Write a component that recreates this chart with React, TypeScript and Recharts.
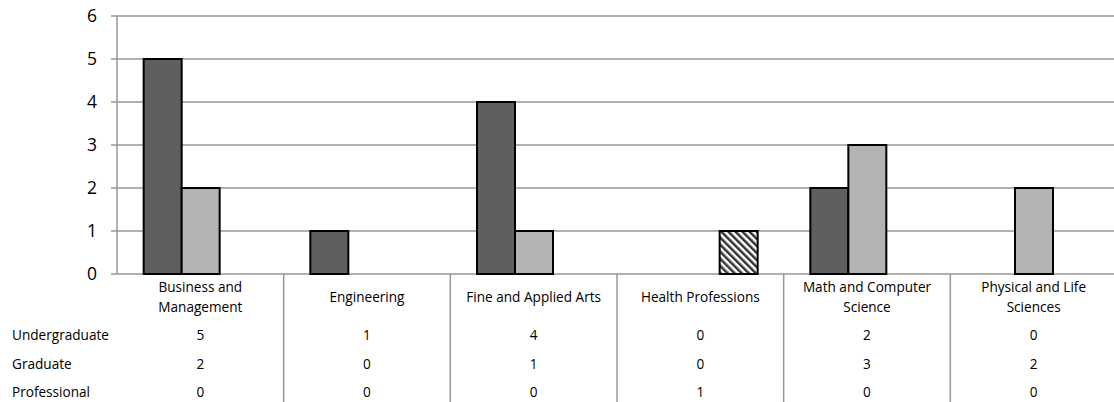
import React from "react";
import { BarChart, Bar, XAxis, YAxis, CartesianGrid } from "recharts";

const categories = [
  "Business and Management",
  "Engineering",
  "Fine and Applied Arts",
  "Health Professions",
  "Math and Computer Science",
  "Physical and Life Sciences",
];
const undergraduate = [5, 1, 4, 0, 2, 0];
const graduate = [2, 0, 1, 0, 3, 2];
const professional = [0, 0, 0, 1, 0, 0];
const seriesNames = ["Undergraduate", "Graduate", "Professional"];
const yTicks = [0, 1, 2, 3, 4, 5, 6];

const seriesValues = [undergraduate, graduate, professional];
const data = categories.map((c, i) => ({
  name: c,
  Undergraduate: undergraduate[i],
  Graduate: graduate[i],
  Professional: professional[i],
}));

const FONT = "'Open Sans', 'Noto Sans', sans-serif";
const GRID = "#979797";
const TABLE_H = 128;

function wrap(label: string, max = 21): string[] {
  const words = label.split(" ");
  const lines: string[] = [];
  let cur = "";
  for (const w of words) {
    const t = cur ? cur + " " + w : w;
    if (t.length > max && cur) {
      lines.push(cur);
      cur = w;
    } else cur = t;
  }
  if (cur) lines.push(cur);
  return lines;
}

function TableTick(props: any) {
  const { x, y, payload } = props;
  const idx: number = payload.index ?? props.index ?? 0;
  const half: number = payload.offset ?? 83;
  const lines = wrap(String(payload.value));
  const labelYs = lines.length === 1 ? [24] : [14, 34];
  const rowYs = [62, 91, 119];
  return (
    <g fontFamily={FONT} fontSize={13.6} fill="#000">
      <line x1={x + half} x2={x + half} y1={y} y2={y + TABLE_H} stroke={GRID} strokeWidth={1.5} />
      {lines.map((l, k) => (
        <text key={k} x={x} y={y + labelYs[k]} textAnchor="middle" dominantBaseline="middle" fill="#000">
          {l}
        </text>
      ))}
      {seriesValues.map((vals, r) => (
        <text key={"v" + r} x={x} y={y + rowYs[r]} textAnchor="middle" dominantBaseline="middle" fill="#000">
          {vals[idx]}
        </text>
      ))}
      {idx === 0 &&
        seriesNames.map((n, r) => (
          <text key={"n" + r} x={x - half - 105} y={y + rowYs[r]} textAnchor="start" dominantBaseline="middle" fill="#000">
            {n}
          </text>
        ))}
    </g>
  );
}

export default function App() {
  return (
    <div style={{ position: "absolute", left: 0, top: 0, width: 1114, height: 402, overflow: "hidden", background: "#fff" }}>
      <BarChart
        width={1117}
        height={402}
        data={data}
        margin={{ top: 16, right: 0, bottom: 0, left: 17 }}
        barCategoryGap="16%"
        barGap={0}
      >
        <defs>
          <pattern id="hatch" width="5" height="5" patternUnits="userSpaceOnUse" patternTransform="rotate(-45)">
            <rect width="5" height="5" fill="#fff" />
            <rect width="2.5" height="5" fill="#333" />
          </pattern>
          <filter id="shadow" x="-5%" y="-500%" width="110%" height="1100%">
            <feDropShadow dx="-2" dy="3" stdDeviation="2" floodColor="#000" floodOpacity="0.35" />
          </filter>
        </defs>
        <CartesianGrid vertical={false} stroke={GRID} strokeWidth={1.5} />
        <XAxis
          dataKey="name"
          height={TABLE_H}
          tickLine={false}
          tickSize={0}
          tickMargin={0}
          interval={0}
          axisLine={{ stroke: GRID, strokeWidth: 1.5, filter: "url(#shadow)" }}
          tick={<TableTick />}
        />
        <YAxis
          width={100}
          domain={[0, 6]}
          ticks={yTicks}
          interval={0}
          tickSize={6}
          tickMargin={14}
          axisLine={{ stroke: GRID, strokeWidth: 1.5 }}
          tickLine={{ stroke: GRID, strokeWidth: 1.5 }}
          tick={{ fontFamily: FONT, fontSize: 17.5, fill: "#000" }}
        />
        <Bar dataKey="Undergraduate" fill="#5f5f5f" stroke="#000" strokeWidth={2} isAnimationActive={false} />
        <Bar dataKey="Graduate" fill="#b3b3b3" stroke="#000" strokeWidth={2} isAnimationActive={false} />
        <Bar dataKey="Professional" fill="url(#hatch)" stroke="#000" strokeWidth={2} isAnimationActive={false} />
      </BarChart>
    </div>
  );
}
